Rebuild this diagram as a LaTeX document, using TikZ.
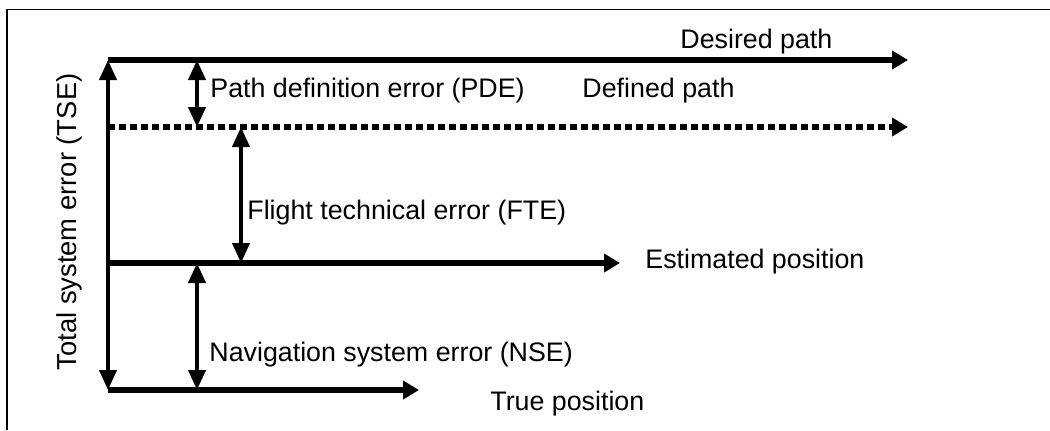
\documentclass[tikz,border=0pt]{standalone}
\usepackage{fontspec}
\setmainfont{Liberation Sans}
\usetikzlibrary{arrows.meta,positioning}

\begin{document}
\begin{tikzpicture}[x=0.5pt,y=-0.5pt,
    font=\fontsize{13.4}{16}\selectfont,
    pathline/.style={line width=3pt,-{Triangle[length=8pt,width=9pt]}},
    errarrow/.style={line width=2pt,{Triangle[length=10pt,width=8.5pt]}-{Triangle[length=10pt,width=8.5pt]}},
    lbl/.style={inner sep=0pt,anchor=base west}]
   \useasboundingbox (0,0) rectangle (1050,430);
   % frame
   \draw[line width=0.6pt] (7,430) |- (1050,9.5);
   % line ends
   \coordinate (ds) at (108,60);  \coordinate (de) at (908,60);
   \coordinate (fs) at (108,127); \coordinate (fe) at (908,127);
   \coordinate (es) at (108,263); \coordinate (ee) at (620,263);
   \coordinate (ts) at (108,390); \coordinate (te) at (419,390);
   % paths
   \draw[pathline] (ds) -- (de);
   \draw[pathline,dash pattern=on 3.5pt off 2pt] (fs) -- (fe);
   \draw[pathline] (es) -- (ee);
   \draw[pathline] (ts) -- (te);
   % errors
   \coordinate (pde-t) at (197,60);  \coordinate (pde-b) at (197,127);
   \coordinate (fte-t) at (241,127); \coordinate (fte-b) at (241,263);
   \coordinate (nse-t) at (197,263); \coordinate (nse-b) at (197,390);
   \draw[errarrow] (ds) -- (ts);
   \draw[errarrow] (pde-t) -- (pde-b);
   \draw[errarrow] (fte-t) -- (fte-b);
   \draw[errarrow] (nse-t) -- (nse-b);
   % labels
   \node[lbl] (desired) at (680,48) {Desired path};
   \node[lbl] (pde) at (210,97) {Path definition error (PDE)};
   \node[inner sep=0pt] (defined) [base right=28.5pt of pde] {Defined path};
   \node[lbl] (fte) at (247,219) {Flight technical error (FTE)};
   \node[lbl] (estimated) at (645,268) {Estimated position};
   \node[lbl] (nse) at (209,361) {Navigation system error (NSE)};
   \node[lbl] (true) at (490,410) {True position};
   \node[rotate=90,inner sep=0pt,font=\fontsize{13.7}{16}\selectfont] (tse) at (69,222) {Total system error (TSE)};
\end{tikzpicture}
\end{document}
